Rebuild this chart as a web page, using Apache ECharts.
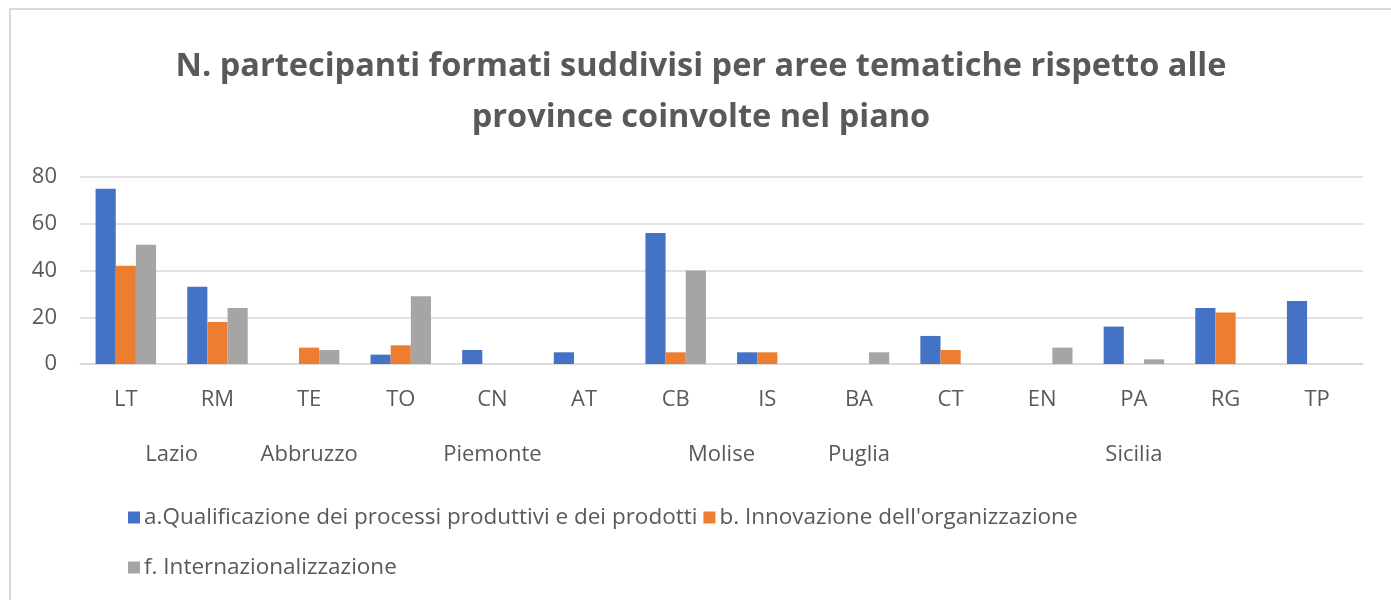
<!DOCTYPE html>
<html>
<head>
<meta charset="utf-8">
<title>N. partecipanti formati</title>
<script src="https://cdn.jsdelivr.net/npm/echarts@6/dist/echarts.min.js"></script>
<style>
  html, body { margin: 0; padding: 0; background: #fff; }
  #chart { width: 1391px; height: 600px; }
</style>
</head>
<body>
<div id="chart"></div>
<script>
  'use strict';

  /* dati */
  var provinces = ['LT', 'RM', 'TE', 'TO', 'CN', 'AT', 'CB', 'IS', 'BA', 'CT', 'EN', 'PA', 'RG', 'TP'];
  var regionOf = ['Lazio', 'Lazio', 'Abbruzzo', 'Piemonte', 'Piemonte', 'Piemonte', 'Molise', 'Molise',
    'Puglia', 'Sicilia', 'Sicilia', 'Sicilia', 'Sicilia', 'Sicilia'];
  var seriesNames = [
    'a.Qualificazione dei processi produttivi e dei prodotti',
    'b. Innovazione dell\'organizzazione',
    'f. Internazionalizzazione'
  ];
  var qualificazione = [75, 33, null, 4, 6, 5, 56, 5, null, 12, null, 16, 24, 27];
  var innovazione = [42, 18, 7, 8, null, null, 5, 5, null, 6, null, null, 22, null];
  var internazionalizzazione = [51, 24, 6, 29, null, null, 40, null, 5, null, 7, 2, null, null];
  var yTicks = [0, 20, 40, 60, 80];

  var colors = ['#4472C4', '#ED7D31', '#A5A5A5'];
  var textColor = '#595959';
  var font = '"Open Sans", Lato, sans-serif';

  /* etichette regioni: asse a mezze posizioni, centrate sul gruppo */
  var regionLabels = [];
  for (var i = 0; i <= provinces.length * 2; i++) regionLabels.push('');
  var start = 0;
  for (var k = 1; k <= regionOf.length; k++) {
    if (k === regionOf.length || regionOf[k] !== regionOf[start]) {
      regionLabels[start + (k - 1) + 1] = regionOf[start];
      start = k;
    }
  }

  var legendText = { fontFamily: font, fontSize: 22.5, color: textColor, padding: [0, 0, 0, -1] };

  var myChart = echarts.init(document.getElementById('chart'));
  var option = {
    animation: false,
    color: colors,
    textStyle: { fontFamily: font },
    title: {
      text: 'N. partecipanti formati suddivisi per aree tematiche rispetto alle\nprovince coinvolte nel piano',
      left: 696,
      top: 36,
      textAlign: 'center',
      textStyle: {
        fontFamily: font,
        fontSize: 32.5,
        fontWeight: 'bold',
        color: textColor,
        lineHeight: 51
      }
    },
    graphic: [{
      type: 'rect',
      shape: { x: 10, y: 9, width: 1420, height: 640 },
      style: { fill: 'none', stroke: '#d9d9d9', lineWidth: 2 },
      silent: true
    }],
    legend: [{
      data: seriesNames.slice(0, 2),
      left: 123,
      top: 501,
      itemWidth: 12,
      itemHeight: 12,
      itemGap: 6,
      icon: 'rect',
      textStyle: legendText
    }, {
      data: seriesNames.slice(2),
      left: 123,
      top: 551,
      itemWidth: 12,
      itemHeight: 12,
      icon: 'rect',
      textStyle: legendText
    }],
    grid: {
      left: 80,
      right: 28,
      top: 177,
      bottom: 236,
      containLabel: false
    },
    xAxis: [{
      type: 'category',
      data: provinces,
      axisLine: { lineStyle: { color: '#d9d9d9', width: 1.5 } },
      axisTick: { show: false },
      axisLabel: { fontSize: 22, color: textColor, margin: 25, interval: 0 }
    }, {
      type: 'category',
      data: regionLabels,
      position: 'bottom',
      offset: 55,
      boundaryGap: false,
      axisLine: { show: false },
      axisTick: { show: false },
      splitLine: { show: false },
      axisLabel: { fontSize: 22, color: textColor, margin: 25, interval: 0 }
    }],
    yAxis: {
      type: 'value',
      min: yTicks[0],
      max: yTicks[yTicks.length - 1],
      interval: yTicks[1] - yTicks[0],
      axisLine: { show: false },
      axisTick: { show: false },
      axisLabel: { fontSize: 22, color: textColor, margin: 23 },
      splitLine: { lineStyle: { color: '#d9d9d9', width: 1.5 } }
    },
    series: [{
      name: seriesNames[0],
      type: 'bar',
      data: qualificazione,
      barGap: '0%',
      barCategoryGap: '34%'
    }, {
      name: seriesNames[1],
      type: 'bar',
      data: innovazione
    }, {
      name: seriesNames[2],
      type: 'bar',
      data: internazionalizzazione
    }]
  };

  myChart.setOption(option);
</script>
</body>
</html>
